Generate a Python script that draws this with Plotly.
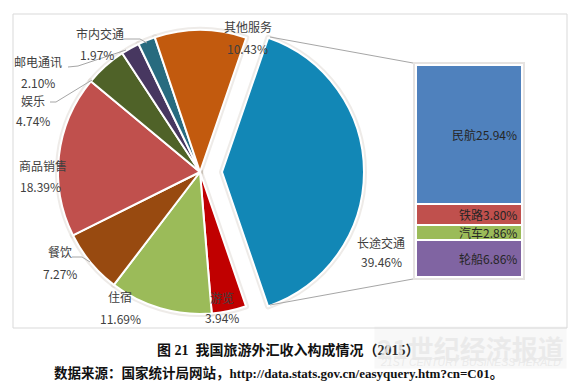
import plotly.graph_objects as go

# page body has an 8px margin, so the figure is placed at (8,8) on screen
OX, OY = 8, 8
W, H = 580 - OX, 386 - OY

# ---- data ----
pie_labels = ["长途交通", "游览", "住宿", "餐饮", "商品销售", "娱乐", "邮电通讯", "市内交通", "其他服务"]
pie_values = [39.46, 3.94, 11.69, 7.27, 18.39, 4.74, 2.10, 1.97, 10.43]
pie_colors = ["#1287b6", "#c00000", "#9bbb59", "#984a10", "#c0504d", "#4f6228", "#473760", "#286b7f", "#c25a0e"]

bar_labels = ["轮船", "汽车", "铁路", "民航"]          # bottom to top
bar_values = [6.86, 2.86, 3.80, 25.94]
bar_colors = ["#8064a2", "#9bbb59", "#c0504d", "#4f81bd"]


def px(x):
    return (x - OX) / W


def py(y):
    return 1 - (y - OY) / H


fig = go.Figure()

# pie: centre (200,172), radius ~142, exploded slice pulled
pull = 0.155
cx, cy = 200, 172
half = min(142 * (1 + pull), cy - OY)
pie_domain = dict(x=[px(cx - half), px(cx + half)], y=[py(cy + half), py(cy - half)])
pulls = [pull] + [0] * (len(pie_values) - 1)
# soft shadow outline underneath
fig.add_trace(go.Pie(
    labels=pie_labels, values=pie_values, sort=False, direction="clockwise",
    rotation=19, pull=pulls,
    marker=dict(colors=pie_colors, line=dict(color="rgba(200,190,180,0.3)", width=6)),
    textinfo="none", hoverinfo="skip", showlegend=False, domain=pie_domain,
))
fig.add_trace(go.Pie(
    labels=pie_labels, values=pie_values, sort=False, direction="clockwise",
    rotation=19, pull=pulls,
    marker=dict(colors=pie_colors, line=dict(color="white", width=2)),
    textinfo="none", hoverinfo="label+percent", showlegend=False, domain=pie_domain,
))

for lab, val, col in zip(bar_labels, bar_values, bar_colors):
    fig.add_trace(go.Bar(
        x=[0], y=[val], name=lab, marker=dict(color=col, line=dict(color="white", width=2)),
        width=1, showlegend=False, xaxis="x", yaxis="y",
    ))

bar_top, bar_bot = 65, 277
bar_left, bar_right = 416, 522
fig.update_layout(
    width=W, height=H, margin=dict(l=0, r=0, t=0, b=0),
    paper_bgcolor="white", plot_bgcolor="rgba(0,0,0,0)",
    barmode="stack", bargap=0,
    xaxis=dict(domain=[px(bar_left), px(bar_right)], range=[-0.5, 0.5], visible=False, fixedrange=True),
    yaxis=dict(domain=[py(bar_bot), py(bar_top)], range=[0, sum(bar_values)], visible=False, fixedrange=True),
    font=dict(family="Noto Sans CJK SC", color="#404040", size=11),
)

annotations = []
# bar labels (right aligned inside segment)
cum = 0
for lab, val in zip(bar_labels, bar_values):
    annotations.append(dict(
        x=0.5, y=cum + val / 2, xref="x", yref="y", xanchor="right", yanchor="middle",
        xshift=-3, text=f"{lab}{val:.2f}%", showarrow=False,
        font=dict(size=12, color="#262626"),
    ))
    cum += val

# pie labels: (label, value) positions in screen pixels
label_pos = {
    "市内交通": ((100, 33), (97, 55)),
    "其他服务": ((248, 27), (247, 48)),
    "邮电通讯": ((38, 61), (38, 82)),
    "娱乐": ((33, 100), (33, 120)),
    "商品销售": ((43, 165), (40, 186)),
    "餐饮": ((60, 251), (60, 273)),
    "住宿": ((120, 296), (120, 318)),
    "游览": ((222, 297), (222, 317)),
    "长途交通": ((381, 242), (381, 261)),
}
for lab, val in zip(pie_labels, pie_values):
    (lx, ly), (vx, vy) = label_pos[lab]
    annotations.append(dict(x=px(lx), y=py(ly), xref="paper", yref="paper", text=lab,
                            showarrow=False, xanchor="center", yanchor="middle",
                            font=dict(size=12, color="#404040")))
    annotations.append(dict(x=px(vx), y=py(vy), xref="paper", yref="paper", text=f"{val:.2f}%",
                            showarrow=False, xanchor="center", yanchor="middle",
                            font=dict(size=12, color="#404040")))

serif = "Liberation Serif, Noto Sans CJK SC"
# caption
annotations.append(dict(x=px(288), y=py(350), xref="paper", yref="paper",
                        text="<b>图 21  我国旅游外汇收入构成情况（2015）</b>", showarrow=False,
                        xanchor="center", yanchor="middle",
                        font=dict(family=serif, size=14, color="#111111")))
annotations.append(dict(x=px(52), y=py(373), xref="paper", yref="paper",
                        text="<b>数据来源：国家统计局网站，"
                             "<span style='font-size:13px'>http://data.stats.gov.cn/easyquery.htm?cn=C01</span>。</b>",
                        showarrow=False, xanchor="left", yanchor="middle",
                        font=dict(family=serif, size=13.5, color="#111111")))
# watermark (light band with whitish letters)
annotations.append(dict(x=px(470), y=py(347), xref="paper", yref="paper",
                        text="<b>21世纪经济报道</b>", showarrow=False, xanchor="center", yanchor="middle",
                        bgcolor="rgba(210,210,210,0.15)", borderpad=2,
                        font=dict(family="Noto Sans CJK SC", size=26, color="rgba(232,232,232,0.85)")))
annotations.append(dict(x=px(470), y=py(362), xref="paper", yref="paper",
                        text="<i>21ST CENTURY BUSINESS HERALD</i>", showarrow=False,
                        xanchor="center", yanchor="middle",
                        font=dict(family="Liberation Sans", size=10.5, color="rgba(232,232,232,0.9)")))

shapes = []
# chart border
shapes.append(dict(type="rect", xref="paper", yref="paper", x0=px(13), y0=py(328), x1=px(567), y1=py(14),
                   line=dict(color="#d9d9d9", width=1), layer="below"))
# bar shadow outline
shapes.append(dict(type="rect", xref="paper", yref="paper", x0=px(414), y0=py(279), x1=px(524), y1=py(63),
                   line=dict(color="rgba(205,200,195,0.5)", width=2), layer="below"))
# connecting lines
for (x0, y0), (x1, y1) in [((270, 37), (413, 63)), ((270, 305), (413, 279))]:
    shapes.append(dict(type="line", xref="paper", yref="paper", x0=px(x0), y0=py(y0), x1=px(x1), y1=py(y1),
                       line=dict(color="#a6a6a6", width=1)))
# leader lines
leaders = [
    [(124, 39), (140, 39), (147, 43)],
    [(68, 67), (78, 66), (126, 50)],
    [(50, 102), (56, 102), (92, 80)],
    [(72, 257), (82, 257), (90, 262)],
]
for pts in leaders:
    path = "M " + " L ".join(f"{px(x)},{py(y)}" for x, y in pts)
    shapes.append(dict(type="path", xref="paper", yref="paper", path=path,
                       line=dict(color="#a6a6a6", width=1)))

fig.update_layout(annotations=annotations, shapes=shapes)
fig.write_html("out.html")
